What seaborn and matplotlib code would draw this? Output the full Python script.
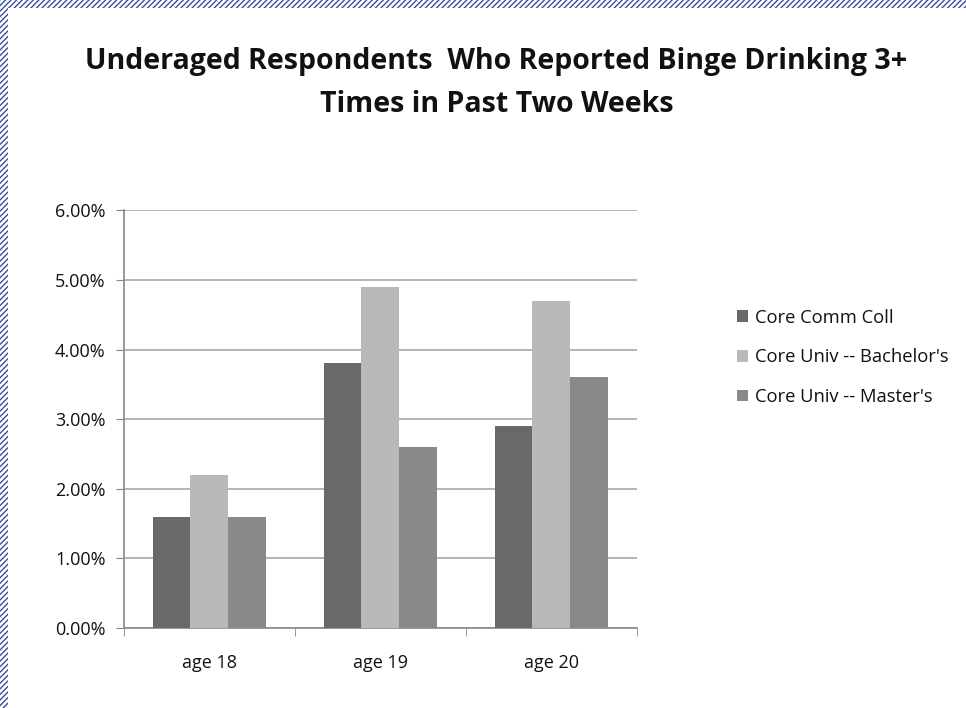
import matplotlib
matplotlib.use("Agg")
import matplotlib.pyplot as plt
from matplotlib.patches import Rectangle
from matplotlib.ticker import FuncFormatter
import seaborn as sns
import pandas as pd

ages = ["age 18", "age 19", "age 20"]
groups = ["Core Comm Coll", "Core Univ -- Bachelor's", "Core Univ -- Master's"]
comm_coll = [1.6, 3.8, 2.9]
bachelors = [2.2, 4.9, 4.7]
masters = [1.6, 2.6, 3.6]
colors = ["#696969", "#b9b9b9", "#898989"]

df = pd.DataFrame({
    "age": ages * 3,
    "group": [groups[0]] * 3 + [groups[1]] * 3 + [groups[2]] * 3,
    "pct": comm_coll + bachelors + masters,
})

sns.set_style("white")
plt.rcParams["font.family"] = ["Open Sans", "DejaVu Sans"]
plt.rcParams["text.color"] = "#111111"
plt.rcParams["xtick.color"] = "#888888"
plt.rcParams["ytick.color"] = "#888888"
plt.rcParams["xtick.labelcolor"] = "#111111"
plt.rcParams["ytick.labelcolor"] = "#111111"

fig = plt.figure(figsize=(9.66, 7.08), dpi=100)
ax = fig.add_axes([0.128, 0.113, 0.531, 0.590])

sns.barplot(data=df, x="age", y="pct", hue="group", palette=colors,
            width=0.66, gap=0, saturation=1, ax=ax, edgecolor="none", zorder=3)

ax.set_ylim(0, 6)
ax.set_xlim(-0.5, 2.5)
ax.set_yticks([0, 1, 2, 3, 4, 5, 6])
ax.yaxis.set_major_formatter(FuncFormatter(lambda v, p: f"{v:.2f}%"))
ax.grid(axis="y", color="#a8a8a8", linewidth=1.2, zorder=0)
ax.set_axisbelow(True)
ax.set_xlabel("")
ax.set_ylabel("")

# category boundary ticks on x axis
ax.set_xticks([-0.5, 0.5, 1.5, 2.5], minor=True)
ax.tick_params(axis="x", which="major", length=0, labelsize=13, pad=19)
ax.tick_params(axis="x", which="minor", length=6, direction="out")
ax.tick_params(axis="y", length=6, direction="out", labelsize=13, pad=7)
ax.xaxis.set_ticks_position("bottom")
ax.yaxis.set_ticks_position("left")

for side in ["top", "right"]:
    ax.spines[side].set_visible(False)
for side in ["left", "bottom"]:
    ax.spines[side].set_color("#888888")
    ax.spines[side].set_linewidth(1.2)

handles, labels = ax.get_legend_handles_labels()
ax.legend(handles, labels, loc="center left", bbox_to_anchor=(1.163, 0.648),
          frameon=False, fontsize=13.2, handlelength=0.6, handleheight=0.6,
          handletextpad=0.4, labelspacing=1.18)

fig.suptitle("Underaged Respondents  Who Reported Binge Drinking 3+\nTimes in Past Two Weeks",
             x=0.514, y=0.933, fontsize=20.5, fontweight="bold", linespacing=1.6)

# hatched frame on top and left edges
fig.patches.append(Rectangle((0, 1 - 8 / 708), 1, 8 / 708, transform=fig.transFigure,
                             facecolor="white", edgecolor="#3b4fa0", hatch="//////",
                             linewidth=0))
fig.patches.append(Rectangle((0, 0), 8 / 966, 1, transform=fig.transFigure,
                             facecolor="white", edgecolor="#3b4fa0", hatch="//////",
                             linewidth=0))

fig.savefig("out.png", dpi=100)
